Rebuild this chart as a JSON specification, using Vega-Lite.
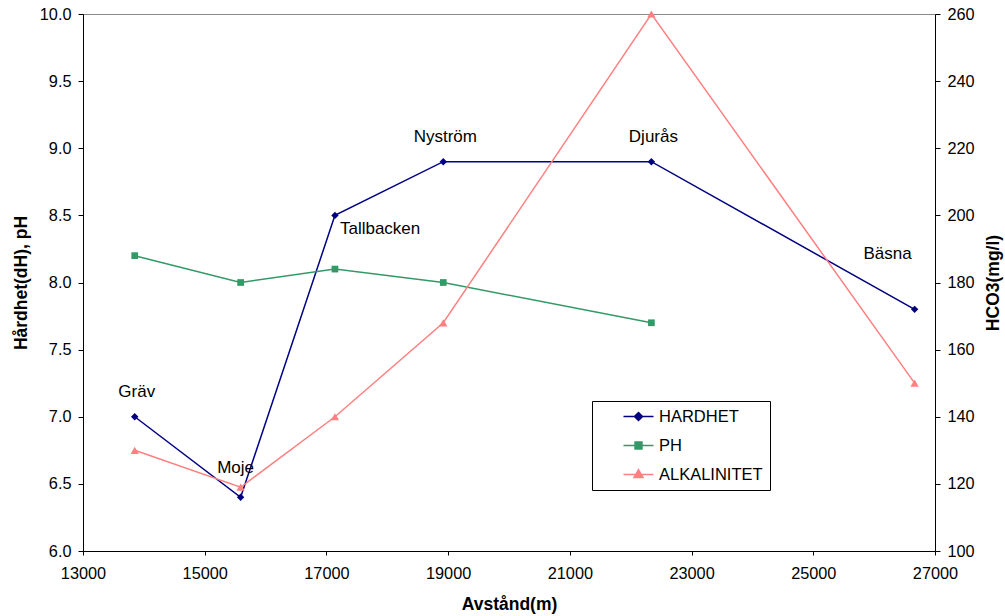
{
  "$schema": "https://vega.github.io/schema/vega-lite/v6.json",
  "width": 852,
  "height": 537,
  "autosize": {"type": "none"},
  "padding": {"left": 83, "top": 14, "right": 70, "bottom": 65},
  "background": "white",
  "config": {
    "font": "Liberation Sans",
    "view": {"stroke": "#888", "strokeWidth": 1},
    "axis": {
      "grid": false,
      "domainColor": "#000",
      "tickColor": "#000",
      "labelColor": "#000",
      "titleColor": "#000",
      "labelFont": "Liberation Sans",
      "titleFont": "Liberation Sans",
      "labelFontSize": 16.3,
      "titleFontSize": 17.5,
      "titleFontWeight": "bold",
      "tickSize": 5,
      "labelPadding": 7,
      "labelFlush": false
    },
    "text": {"font": "Liberation Sans", "fontSize": 17, "color": "#000"}
  },
  "data": {
    "values": [
      {"station": "Gräv", "dist": 13850, "series": "HARDHET", "value": 7.0},
      {"station": "Moje", "dist": 15590, "series": "HARDHET", "value": 6.4},
      {"station": "Tallbacken", "dist": 17140, "series": "HARDHET", "value": 8.5},
      {"station": "Nyström", "dist": 18920, "series": "HARDHET", "value": 8.9},
      {"station": "Djurås", "dist": 22340, "series": "HARDHET", "value": 8.9},
      {"station": "Bäsna", "dist": 26665, "series": "HARDHET", "value": 7.8},
      {"station": "Gräv", "dist": 13850, "series": "PH", "value": 8.2},
      {"station": "Moje", "dist": 15590, "series": "PH", "value": 8.0},
      {"station": "Tallbacken", "dist": 17140, "series": "PH", "value": 8.1},
      {"station": "Nyström", "dist": 18920, "series": "PH", "value": 8.0},
      {"station": "Djurås", "dist": 22340, "series": "PH", "value": 7.7},
      {"station": "Gräv", "dist": 13850, "series": "ALKALINITET", "value": 130},
      {"station": "Moje", "dist": 15590, "series": "ALKALINITET", "value": 119},
      {"station": "Tallbacken", "dist": 17140, "series": "ALKALINITET", "value": 140},
      {"station": "Nyström", "dist": 18920, "series": "ALKALINITET", "value": 168},
      {"station": "Djurås", "dist": 22340, "series": "ALKALINITET", "value": 260},
      {"station": "Bäsna", "dist": 26665, "series": "ALKALINITET", "value": 150}
    ]
  },
  "encoding": {
    "x": {
      "field": "dist",
      "type": "quantitative",
      "scale": {"domain": [13000, 27000], "nice": false, "zero": false, "padding": 0},
      "axis": {
        "title": "Avstånd(m)",
        "values": [13000, 15000, 17000, 19000, 21000, 23000, 25000, 27000],
        "format": "d",
        "tickSize": 4,
        "labelPadding": 10,
        "titlePadding": 14
      }
    }
  },
  "layer": [
    {
      "transform": [{"filter": "datum.series !== 'ALKALINITET'"}],
      "encoding": {
        "y": {
          "field": "value",
          "type": "quantitative",
          "scale": {"domain": [6, 10], "nice": false, "zero": false},
          "axis": {
            "orient": "left",
            "title": "Hårdhet(dH), pH",
            "values": [6, 6.5, 7, 7.5, 8, 8.5, 9, 9.5, 10],
            "format": ".1f",
            "titlePadding": 9
          }
        }
      },
      "layer": [
        {
          "mark": {"type": "line", "strokeWidth": 1.5},
          "encoding": {
            "color": {
              "field": "series",
              "type": "nominal",
              "scale": {
                "domain": ["HARDHET", "PH", "ALKALINITET"],
                "range": ["#000080", "#339966", "#FF8080"]
              },
              "legend": {
                "title": null,
                "orient": "none",
                "legendX": 509,
                "legendY": 387,
                "padding": 7,
                "strokeColor": "#000",
                "fillColor": "#fff",
                "labelFontSize": 16.5,
                "labelFont": "Liberation Sans",
                "labelColor": "#000",
                "labelExpr": "datum.label + '      '",
                "symbolSize": 225,
                "symbolOffset": 31,
                "labelOffset": 12,
                "rowPadding": 12,
                "symbolType": "stroke",
                "encode": {
                  "symbols": {
                    "update": {
                      "shape": {"signal": "datum.value === 'HARDHET' ? 'M-2,0L2,0M0,-0.54L0.54,0L0,0.54L-0.54,0Z' : datum.value === 'PH' ? 'M-2,0L2,0M-0.46,-0.46L0.46,-0.46L0.46,0.46L-0.46,0.46Z' : 'M-2,0L2,0M0,-0.64L0.6,0.4L-0.6,0.4Z'"},
                      "fill": {"signal": "scale('color', datum.value)"},
                      "stroke": {"signal": "scale('color', datum.value)"},
                      "strokeWidth": {"value": 1.5},
                      "opacity": {"value": 1}
                    }
                  }
                }
              }
            }
          }
        },
        {
          "mark": {"type": "point", "filled": true, "opacity": 1},
          "encoding": {
            "color": {"field": "series", "type": "nominal", "legend": null},
            "shape": {
              "field": "series",
              "type": "nominal",
              "scale": {"domain": ["HARDHET", "PH"], "range": ["diamond", "square"]},
              "legend": null
            },
            "size": {
              "field": "series",
              "type": "nominal",
              "scale": {"domain": ["HARDHET", "PH"], "range": [55, 45]},
              "legend": null
            }
          }
        },
        {
          "transform": [{"filter": "datum.series === 'HARDHET' && (datum.station === 'Gräv' || datum.station === 'Nyström' || datum.station === 'Djurås')"}],
          "mark": {"type": "text", "dx": 2, "dy": -25},
          "encoding": {"text": {"field": "station"}}
        },
        {
          "transform": [{"filter": "datum.series === 'HARDHET' && datum.station === 'Moje'"}],
          "mark": {"type": "text", "dx": -5, "dy": -29},
          "encoding": {"text": {"field": "station"}}
        },
        {
          "transform": [{"filter": "datum.series === 'HARDHET' && datum.station === 'Tallbacken'"}],
          "mark": {"type": "text", "align": "left", "dx": 5, "dy": 14},
          "encoding": {"text": {"field": "station"}}
        },
        {
          "transform": [{"filter": "datum.series === 'HARDHET' && datum.station === 'Bäsna'"}],
          "mark": {"type": "text", "dx": -27, "dy": -55},
          "encoding": {"text": {"field": "station"}}
        }
      ]
    },
    {
      "transform": [{"filter": "datum.series === 'ALKALINITET'"}],
      "encoding": {
        "y": {
          "field": "value",
          "type": "quantitative",
          "scale": {"domain": [100, 260], "nice": false, "zero": false},
          "axis": {
            "orient": "right",
            "title": "HCO3(mg/l)",
            "values": [100, 120, 140, 160, 180, 200, 220, 240, 260],
            "titleAngle": 270,
            "titleBaseline": "top",
            "titlePadding": 10
          }
        },
        "color": {"field": "series", "type": "nominal"}
      },
      "layer": [
        {"mark": {"type": "line", "strokeWidth": 1.5}},
        {"mark": {"type": "point", "filled": true, "opacity": 1, "shape": "triangle-up", "size": 70}}
      ]
    }
  ],
  "resolve": {"scale": {"y": "independent"}}
}
